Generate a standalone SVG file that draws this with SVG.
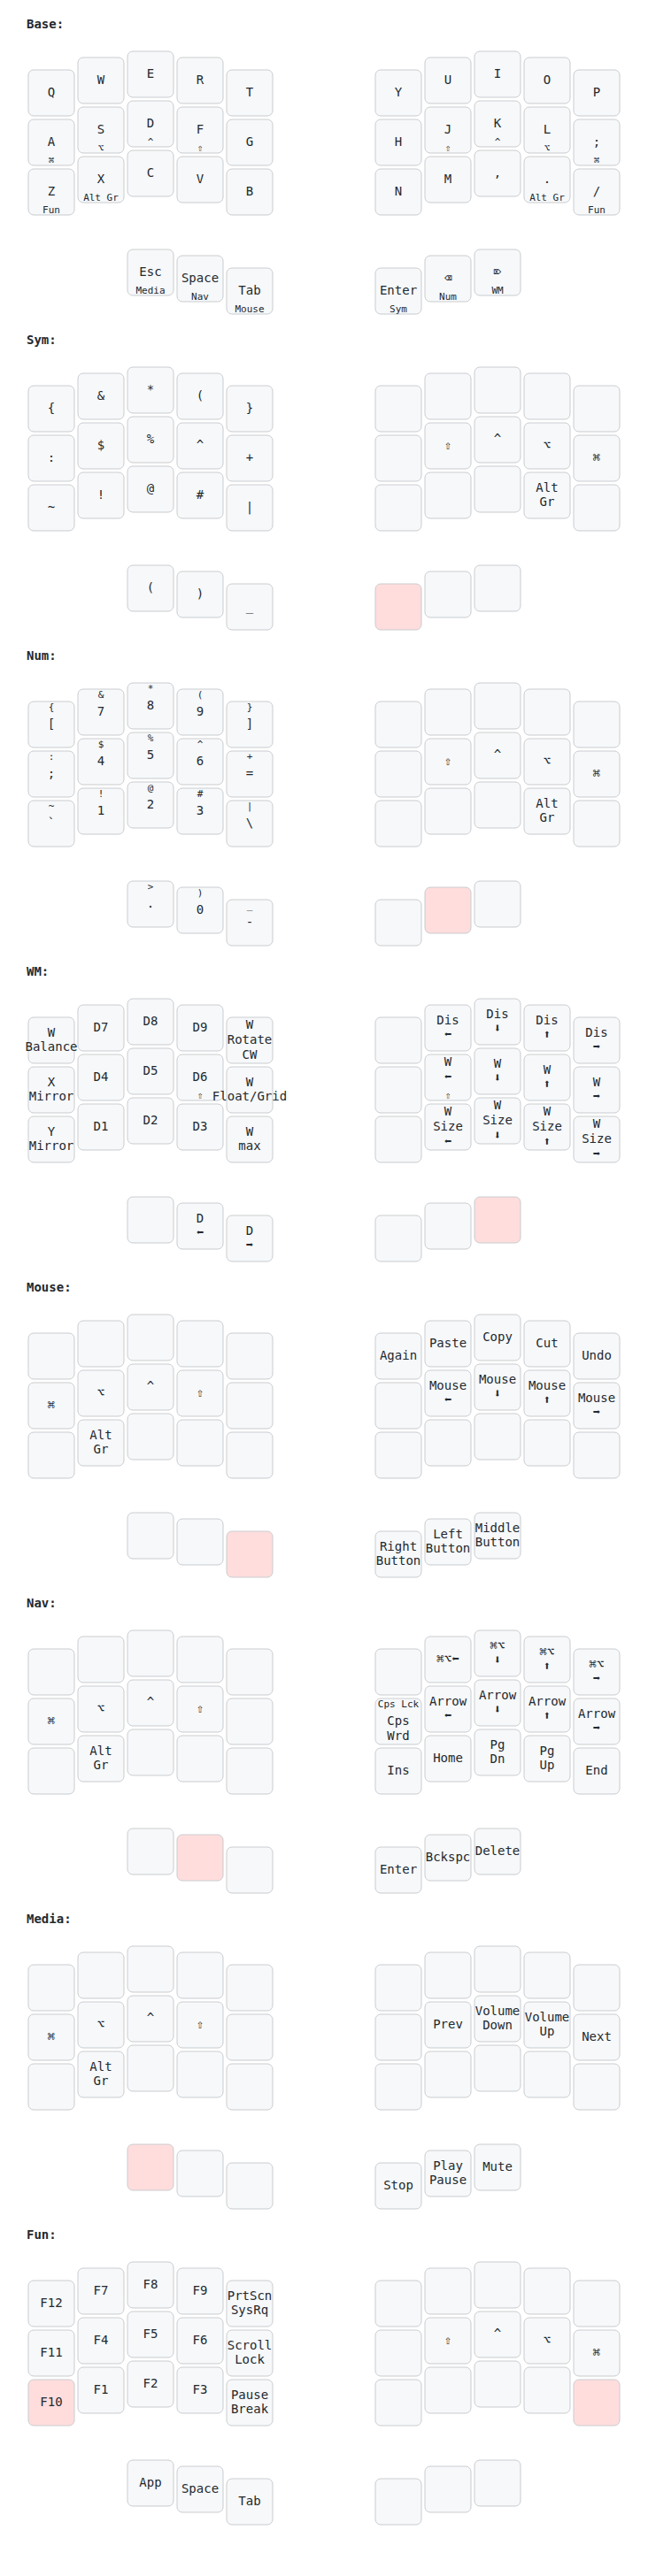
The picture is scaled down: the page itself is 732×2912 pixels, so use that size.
<svg xmlns="http://www.w3.org/2000/svg" xmlns:xlink="http://www.w3.org/1999/xlink" width="732" height="2912" viewBox="0 0 732 2912">
<style>
.key{fill:#f6f8fa;stroke:#c9cccf;stroke-width:1}
.held{fill:#ffdddd}
text{font-family:"DejaVu Sans Mono","Liberation Mono",monospace;font-size:14px;fill:#24292e;text-anchor:middle;dominant-baseline:middle}
text.label{font-weight:bold;text-anchor:start}
text.hold{font-size:11px;dominant-baseline:auto}
text.shifted{font-size:11px;dominant-baseline:hanging}
</style>
<defs>
<rect id="kr" class="key" x="-26" y="-26" width="52" height="52" rx="6"/>
<rect id="kh" class="key held" x="-26" y="-26" width="52" height="52" rx="6"/>
</defs>
<rect x="0" y="0" width="732" height="2912" fill="#ffffff"/>

<!-- Base -->
<g id="layer-base">
<text class="label" x="30" y="28">Base:</text>
<g id="b-L00" transform="translate(58,105)"><use href="#kr"/><text>Q</text></g>
<g id="b-L01" transform="translate(114,91)"><use href="#kr"/><text>W</text></g>
<g id="b-L02" transform="translate(170,84)"><use href="#kr"/><text>E</text></g>
<g id="b-L03" transform="translate(226,91)"><use href="#kr"/><text>R</text></g>
<g id="b-L04" transform="translate(282,105)"><use href="#kr"/><text>T</text></g>
<g id="b-L10" transform="translate(58,161)"><use href="#kr"/><text>A</text><text class="hold" y="24">⌘</text></g>
<g id="b-L11" transform="translate(114,147)"><use href="#kr"/><text>S</text><text class="hold" y="24">⌥</text></g>
<g id="b-L12" transform="translate(170,140)"><use href="#kr"/><text>D</text><text class="hold" y="24">^</text></g>
<g id="b-L13" transform="translate(226,147)"><use href="#kr"/><text>F</text><text class="hold" y="24">⇧</text></g>
<g id="b-L14" transform="translate(282,161)"><use href="#kr"/><text>G</text></g>
<g id="b-L20" transform="translate(58,217)"><use href="#kr"/><text>Z</text><text class="hold" y="24">Fun</text></g>
<g id="b-L21" transform="translate(114,203)"><use href="#kr"/><text>X</text><text class="hold" y="24">Alt Gr</text></g>
<g id="b-L22" transform="translate(170,196)"><use href="#kr"/><text>C</text></g>
<g id="b-L23" transform="translate(226,203)"><use href="#kr"/><text>V</text></g>
<g id="b-L24" transform="translate(282,217)"><use href="#kr"/><text>B</text></g>
<g id="b-LT0" transform="translate(170,308)"><use href="#kr"/><text>Esc</text><text class="hold" y="24">Media</text></g>
<g id="b-LT1" transform="translate(226,315)"><use href="#kr"/><text>Space</text><text class="hold" y="24">Nav</text></g>
<g id="b-LT2" transform="translate(282,329)"><use href="#kr"/><text>Tab</text><text class="hold" y="24">Mouse</text></g>
<g id="b-R00" transform="translate(450,105)"><use href="#kr"/><text>Y</text></g>
<g id="b-R01" transform="translate(506,91)"><use href="#kr"/><text>U</text></g>
<g id="b-R02" transform="translate(562,84)"><use href="#kr"/><text>I</text></g>
<g id="b-R03" transform="translate(618,91)"><use href="#kr"/><text>O</text></g>
<g id="b-R04" transform="translate(674,105)"><use href="#kr"/><text>P</text></g>
<g id="b-R10" transform="translate(450,161)"><use href="#kr"/><text>H</text></g>
<g id="b-R11" transform="translate(506,147)"><use href="#kr"/><text>J</text><text class="hold" y="24">⇧</text></g>
<g id="b-R12" transform="translate(562,140)"><use href="#kr"/><text>K</text><text class="hold" y="24">^</text></g>
<g id="b-R13" transform="translate(618,147)"><use href="#kr"/><text>L</text><text class="hold" y="24">⌥</text></g>
<g id="b-R14" transform="translate(674,161)"><use href="#kr"/><text>;</text><text class="hold" y="24">⌘</text></g>
<g id="b-R20" transform="translate(450,217)"><use href="#kr"/><text>N</text></g>
<g id="b-R21" transform="translate(506,203)"><use href="#kr"/><text>M</text></g>
<g id="b-R22" transform="translate(562,196)"><use href="#kr"/><text>,</text></g>
<g id="b-R23" transform="translate(618,203)"><use href="#kr"/><text>.</text><text class="hold" y="24">Alt Gr</text></g>
<g id="b-R24" transform="translate(674,217)"><use href="#kr"/><text>/</text><text class="hold" y="24">Fun</text></g>
<g id="b-RT0" transform="translate(450,329)"><use href="#kr"/><text>Enter</text><text class="hold" y="24">Sym</text></g>
<g id="b-RT1" transform="translate(506,315)"><use href="#kr"/><text>⌫</text><text class="hold" y="24">Num</text></g>
<g id="b-RT2" transform="translate(562,308)"><use href="#kr"/><text>⌦</text><text class="hold" y="24">WM</text></g>
</g>

<!-- Sym -->
<g id="layer-sym" transform="translate(0,357)">
<text class="label" x="30" y="28">Sym:</text>
<g id="s-L00" transform="translate(58,105)"><use href="#kr"/><text>{</text></g>
<g id="s-L01" transform="translate(114,91)"><use href="#kr"/><text>&amp;</text></g>
<g id="s-L02" transform="translate(170,84)"><use href="#kr"/><text>*</text></g>
<g id="s-L03" transform="translate(226,91)"><use href="#kr"/><text>(</text></g>
<g id="s-L04" transform="translate(282,105)"><use href="#kr"/><text>}</text></g>
<g id="s-L10" transform="translate(58,161)"><use href="#kr"/><text>:</text></g>
<g id="s-L11" transform="translate(114,147)"><use href="#kr"/><text>$</text></g>
<g id="s-L12" transform="translate(170,140)"><use href="#kr"/><text>%</text></g>
<g id="s-L13" transform="translate(226,147)"><use href="#kr"/><text>^</text></g>
<g id="s-L14" transform="translate(282,161)"><use href="#kr"/><text>+</text></g>
<g id="s-L20" transform="translate(58,217)"><use href="#kr"/><text>~</text></g>
<g id="s-L21" transform="translate(114,203)"><use href="#kr"/><text>!</text></g>
<g id="s-L22" transform="translate(170,196)"><use href="#kr"/><text>@</text></g>
<g id="s-L23" transform="translate(226,203)"><use href="#kr"/><text>#</text></g>
<g id="s-L24" transform="translate(282,217)"><use href="#kr"/><text>|</text></g>
<g id="s-LT0" transform="translate(170,308)"><use href="#kr"/><text>(</text></g>
<g id="s-LT1" transform="translate(226,315)"><use href="#kr"/><text>)</text></g>
<g id="s-LT2" transform="translate(282,329)"><use href="#kr"/><text>_</text></g>
<g id="s-R00" transform="translate(450,105)"><use href="#kr"/></g>
<g id="s-R01" transform="translate(506,91)"><use href="#kr"/></g>
<g id="s-R02" transform="translate(562,84)"><use href="#kr"/></g>
<g id="s-R03" transform="translate(618,91)"><use href="#kr"/></g>
<g id="s-R04" transform="translate(674,105)"><use href="#kr"/></g>
<g id="s-R10" transform="translate(450,161)"><use href="#kr"/></g>
<g id="s-R11" transform="translate(506,147)"><use href="#kr"/><text>⇧</text></g>
<g id="s-R12" transform="translate(562,140)"><use href="#kr"/><text>^</text></g>
<g id="s-R13" transform="translate(618,147)"><use href="#kr"/><text>⌥</text></g>
<g id="s-R14" transform="translate(674,161)"><use href="#kr"/><text>⌘</text></g>
<g id="s-R20" transform="translate(450,217)"><use href="#kr"/></g>
<g id="s-R21" transform="translate(506,203)"><use href="#kr"/></g>
<g id="s-R22" transform="translate(562,196)"><use href="#kr"/></g>
<g id="s-R23" transform="translate(618,203)"><use href="#kr"/><text><tspan x="0" dy="-0.6em">Alt</tspan><tspan x="0" dy="1.2em">Gr</tspan></text></g>
<g id="s-R24" transform="translate(674,217)"><use href="#kr"/></g>
<g id="s-RT0" transform="translate(450,329)"><use href="#kh"/></g>
<g id="s-RT1" transform="translate(506,315)"><use href="#kr"/></g>
<g id="s-RT2" transform="translate(562,308)"><use href="#kr"/></g>
</g>

<!-- Num -->
<g id="layer-num" transform="translate(0,714)">
<text class="label" x="30" y="28">Num:</text>
<g id="n-L00" transform="translate(58,105)"><use href="#kr"/><text>[</text><text class="shifted" y="-24">{</text></g>
<g id="n-L01" transform="translate(114,91)"><use href="#kr"/><text>7</text><text class="shifted" y="-24">&amp;</text></g>
<g id="n-L02" transform="translate(170,84)"><use href="#kr"/><text>8</text><text class="shifted" y="-24">*</text></g>
<g id="n-L03" transform="translate(226,91)"><use href="#kr"/><text>9</text><text class="shifted" y="-24">(</text></g>
<g id="n-L04" transform="translate(282,105)"><use href="#kr"/><text>]</text><text class="shifted" y="-24">}</text></g>
<g id="n-L10" transform="translate(58,161)"><use href="#kr"/><text>;</text><text class="shifted" y="-24">:</text></g>
<g id="n-L11" transform="translate(114,147)"><use href="#kr"/><text>4</text><text class="shifted" y="-24">$</text></g>
<g id="n-L12" transform="translate(170,140)"><use href="#kr"/><text>5</text><text class="shifted" y="-24">%</text></g>
<g id="n-L13" transform="translate(226,147)"><use href="#kr"/><text>6</text><text class="shifted" y="-24">^</text></g>
<g id="n-L14" transform="translate(282,161)"><use href="#kr"/><text>=</text><text class="shifted" y="-24">+</text></g>
<g id="n-L20" transform="translate(58,217)"><use href="#kr"/><text>`</text><text class="shifted" y="-24">~</text></g>
<g id="n-L21" transform="translate(114,203)"><use href="#kr"/><text>1</text><text class="shifted" y="-24">!</text></g>
<g id="n-L22" transform="translate(170,196)"><use href="#kr"/><text>2</text><text class="shifted" y="-24">@</text></g>
<g id="n-L23" transform="translate(226,203)"><use href="#kr"/><text>3</text><text class="shifted" y="-24">#</text></g>
<g id="n-L24" transform="translate(282,217)"><use href="#kr"/><text>\</text><text class="shifted" y="-24">|</text></g>
<g id="n-LT0" transform="translate(170,308)"><use href="#kr"/><text>.</text><text class="shifted" y="-24">&gt;</text></g>
<g id="n-LT1" transform="translate(226,315)"><use href="#kr"/><text>0</text><text class="shifted" y="-24">)</text></g>
<g id="n-LT2" transform="translate(282,329)"><use href="#kr"/><text>-</text><text class="shifted" y="-24">_</text></g>
<g id="n-R00" transform="translate(450,105)"><use href="#kr"/></g>
<g id="n-R01" transform="translate(506,91)"><use href="#kr"/></g>
<g id="n-R02" transform="translate(562,84)"><use href="#kr"/></g>
<g id="n-R03" transform="translate(618,91)"><use href="#kr"/></g>
<g id="n-R04" transform="translate(674,105)"><use href="#kr"/></g>
<g id="n-R10" transform="translate(450,161)"><use href="#kr"/></g>
<g id="n-R11" transform="translate(506,147)"><use href="#kr"/><text>⇧</text></g>
<g id="n-R12" transform="translate(562,140)"><use href="#kr"/><text>^</text></g>
<g id="n-R13" transform="translate(618,147)"><use href="#kr"/><text>⌥</text></g>
<g id="n-R14" transform="translate(674,161)"><use href="#kr"/><text>⌘</text></g>
<g id="n-R20" transform="translate(450,217)"><use href="#kr"/></g>
<g id="n-R21" transform="translate(506,203)"><use href="#kr"/></g>
<g id="n-R22" transform="translate(562,196)"><use href="#kr"/></g>
<g id="n-R23" transform="translate(618,203)"><use href="#kr"/><text><tspan x="0" dy="-0.6em">Alt</tspan><tspan x="0" dy="1.2em">Gr</tspan></text></g>
<g id="n-R24" transform="translate(674,217)"><use href="#kr"/></g>
<g id="n-RT0" transform="translate(450,329)"><use href="#kr"/></g>
<g id="n-RT1" transform="translate(506,315)"><use href="#kh"/></g>
<g id="n-RT2" transform="translate(562,308)"><use href="#kr"/></g>
</g>

<!-- WM -->
<g id="layer-wm" transform="translate(0,1071)">
<text class="label" x="30" y="28">WM:</text>
<g id="w-L00" transform="translate(58,105)"><use href="#kr"/><text><tspan x="0" dy="-0.6em">W</tspan><tspan x="0" dy="1.2em">Balance</tspan></text></g>
<g id="w-L01" transform="translate(114,91)"><use href="#kr"/><text>D7</text></g>
<g id="w-L02" transform="translate(170,84)"><use href="#kr"/><text>D8</text></g>
<g id="w-L03" transform="translate(226,91)"><use href="#kr"/><text>D9</text></g>
<g id="w-L04" transform="translate(282,105)"><use href="#kr"/><text><tspan x="0" dy="-1.2em">W</tspan><tspan x="0" dy="1.2em">Rotate</tspan><tspan x="0" dy="1.2em">CW</tspan></text></g>
<g id="w-L10" transform="translate(58,161)"><use href="#kr"/><text><tspan x="0" dy="-0.6em">X</tspan><tspan x="0" dy="1.2em">Mirror</tspan></text></g>
<g id="w-L11" transform="translate(114,147)"><use href="#kr"/><text>D4</text></g>
<g id="w-L12" transform="translate(170,140)"><use href="#kr"/><text>D5</text></g>
<g id="w-L13" transform="translate(226,147)"><use href="#kr"/><text>D6</text><text class="hold" y="24">⇧</text></g>
<g id="w-L14" transform="translate(282,161)"><use href="#kr"/><text><tspan x="0" dy="-0.6em">W</tspan><tspan x="0" dy="1.2em">Float/Grid</tspan></text></g>
<g id="w-L20" transform="translate(58,217)"><use href="#kr"/><text><tspan x="0" dy="-0.6em">Y</tspan><tspan x="0" dy="1.2em">Mirror</tspan></text></g>
<g id="w-L21" transform="translate(114,203)"><use href="#kr"/><text>D1</text></g>
<g id="w-L22" transform="translate(170,196)"><use href="#kr"/><text>D2</text></g>
<g id="w-L23" transform="translate(226,203)"><use href="#kr"/><text>D3</text></g>
<g id="w-L24" transform="translate(282,217)"><use href="#kr"/><text><tspan x="0" dy="-0.6em">W</tspan><tspan x="0" dy="1.2em">max</tspan></text></g>
<g id="w-LT0" transform="translate(170,308)"><use href="#kr"/></g>
<g id="w-LT1" transform="translate(226,315)"><use href="#kr"/><text><tspan x="0" dy="-0.6em">D</tspan><tspan x="0" dy="1.2em">⬅</tspan></text></g>
<g id="w-LT2" transform="translate(282,329)"><use href="#kr"/><text><tspan x="0" dy="-0.6em">D</tspan><tspan x="0" dy="1.2em">➡</tspan></text></g>
<g id="w-R00" transform="translate(450,105)"><use href="#kr"/></g>
<g id="w-R01" transform="translate(506,91)"><use href="#kr"/><text><tspan x="0" dy="-0.6em">Dis</tspan><tspan x="0" dy="1.2em">⬅</tspan></text></g>
<g id="w-R02" transform="translate(562,84)"><use href="#kr"/><text><tspan x="0" dy="-0.6em">Dis</tspan><tspan x="0" dy="1.2em">⬇</tspan></text></g>
<g id="w-R03" transform="translate(618,91)"><use href="#kr"/><text><tspan x="0" dy="-0.6em">Dis</tspan><tspan x="0" dy="1.2em">⬆</tspan></text></g>
<g id="w-R04" transform="translate(674,105)"><use href="#kr"/><text><tspan x="0" dy="-0.6em">Dis</tspan><tspan x="0" dy="1.2em">➡</tspan></text></g>
<g id="w-R10" transform="translate(450,161)"><use href="#kr"/></g>
<g id="w-R11" transform="translate(506,147)"><use href="#kr"/><text><tspan x="0" dy="-1.2em">W</tspan><tspan x="0" dy="1.2em">⬅</tspan></text><text class="hold" y="24">⇧</text></g>
<g id="w-R12" transform="translate(562,140)"><use href="#kr"/><text><tspan x="0" dy="-0.6em">W</tspan><tspan x="0" dy="1.2em">⬇</tspan></text></g>
<g id="w-R13" transform="translate(618,147)"><use href="#kr"/><text><tspan x="0" dy="-0.6em">W</tspan><tspan x="0" dy="1.2em">⬆</tspan></text></g>
<g id="w-R14" transform="translate(674,161)"><use href="#kr"/><text><tspan x="0" dy="-0.6em">W</tspan><tspan x="0" dy="1.2em">➡</tspan></text></g>
<g id="w-R20" transform="translate(450,217)"><use href="#kr"/></g>
<g id="w-R21" transform="translate(506,203)"><use href="#kr"/><text><tspan x="0" dy="-1.2em">W</tspan><tspan x="0" dy="1.2em">Size</tspan><tspan x="0" dy="1.2em">⬅</tspan></text></g>
<g id="w-R22" transform="translate(562,196)"><use href="#kr"/><text><tspan x="0" dy="-1.2em">W</tspan><tspan x="0" dy="1.2em">Size</tspan><tspan x="0" dy="1.2em">⬇</tspan></text></g>
<g id="w-R23" transform="translate(618,203)"><use href="#kr"/><text><tspan x="0" dy="-1.2em">W</tspan><tspan x="0" dy="1.2em">Size</tspan><tspan x="0" dy="1.2em">⬆</tspan></text></g>
<g id="w-R24" transform="translate(674,217)"><use href="#kr"/><text><tspan x="0" dy="-1.2em">W</tspan><tspan x="0" dy="1.2em">Size</tspan><tspan x="0" dy="1.2em">➡</tspan></text></g>
<g id="w-RT0" transform="translate(450,329)"><use href="#kr"/></g>
<g id="w-RT1" transform="translate(506,315)"><use href="#kr"/></g>
<g id="w-RT2" transform="translate(562,308)"><use href="#kh"/></g>
</g>

<!-- Mouse -->
<g id="layer-mouse" transform="translate(0,1428)">
<text class="label" x="30" y="28">Mouse:</text>
<g id="m-L00" transform="translate(58,105)"><use href="#kr"/></g>
<g id="m-L01" transform="translate(114,91)"><use href="#kr"/></g>
<g id="m-L02" transform="translate(170,84)"><use href="#kr"/></g>
<g id="m-L03" transform="translate(226,91)"><use href="#kr"/></g>
<g id="m-L04" transform="translate(282,105)"><use href="#kr"/></g>
<g id="m-L10" transform="translate(58,161)"><use href="#kr"/><text>⌘</text></g>
<g id="m-L11" transform="translate(114,147)"><use href="#kr"/><text>⌥</text></g>
<g id="m-L12" transform="translate(170,140)"><use href="#kr"/><text>^</text></g>
<g id="m-L13" transform="translate(226,147)"><use href="#kr"/><text>⇧</text></g>
<g id="m-L14" transform="translate(282,161)"><use href="#kr"/></g>
<g id="m-L20" transform="translate(58,217)"><use href="#kr"/></g>
<g id="m-L21" transform="translate(114,203)"><use href="#kr"/><text><tspan x="0" dy="-0.6em">Alt</tspan><tspan x="0" dy="1.2em">Gr</tspan></text></g>
<g id="m-L22" transform="translate(170,196)"><use href="#kr"/></g>
<g id="m-L23" transform="translate(226,203)"><use href="#kr"/></g>
<g id="m-L24" transform="translate(282,217)"><use href="#kr"/></g>
<g id="m-LT0" transform="translate(170,308)"><use href="#kr"/></g>
<g id="m-LT1" transform="translate(226,315)"><use href="#kr"/></g>
<g id="m-LT2" transform="translate(282,329)"><use href="#kh"/></g>
<g id="m-R00" transform="translate(450,105)"><use href="#kr"/><text>Again</text></g>
<g id="m-R01" transform="translate(506,91)"><use href="#kr"/><text>Paste</text></g>
<g id="m-R02" transform="translate(562,84)"><use href="#kr"/><text>Copy</text></g>
<g id="m-R03" transform="translate(618,91)"><use href="#kr"/><text>Cut</text></g>
<g id="m-R04" transform="translate(674,105)"><use href="#kr"/><text>Undo</text></g>
<g id="m-R10" transform="translate(450,161)"><use href="#kr"/></g>
<g id="m-R11" transform="translate(506,147)"><use href="#kr"/><text><tspan x="0" dy="-0.6em">Mouse</tspan><tspan x="0" dy="1.2em">⬅</tspan></text></g>
<g id="m-R12" transform="translate(562,140)"><use href="#kr"/><text><tspan x="0" dy="-0.6em">Mouse</tspan><tspan x="0" dy="1.2em">⬇</tspan></text></g>
<g id="m-R13" transform="translate(618,147)"><use href="#kr"/><text><tspan x="0" dy="-0.6em">Mouse</tspan><tspan x="0" dy="1.2em">⬆</tspan></text></g>
<g id="m-R14" transform="translate(674,161)"><use href="#kr"/><text><tspan x="0" dy="-0.6em">Mouse</tspan><tspan x="0" dy="1.2em">➡</tspan></text></g>
<g id="m-R20" transform="translate(450,217)"><use href="#kr"/></g>
<g id="m-R21" transform="translate(506,203)"><use href="#kr"/></g>
<g id="m-R22" transform="translate(562,196)"><use href="#kr"/></g>
<g id="m-R23" transform="translate(618,203)"><use href="#kr"/></g>
<g id="m-R24" transform="translate(674,217)"><use href="#kr"/></g>
<g id="m-RT0" transform="translate(450,329)"><use href="#kr"/><text><tspan x="0" dy="-0.6em">Right</tspan><tspan x="0" dy="1.2em">Button</tspan></text></g>
<g id="m-RT1" transform="translate(506,315)"><use href="#kr"/><text><tspan x="0" dy="-0.6em">Left</tspan><tspan x="0" dy="1.2em">Button</tspan></text></g>
<g id="m-RT2" transform="translate(562,308)"><use href="#kr"/><text><tspan x="0" dy="-0.6em">Middle</tspan><tspan x="0" dy="1.2em">Button</tspan></text></g>
</g>

<!-- Nav -->
<g id="layer-nav" transform="translate(0,1785)">
<text class="label" x="30" y="28">Nav:</text>
<g id="v-L00" transform="translate(58,105)"><use href="#kr"/></g>
<g id="v-L01" transform="translate(114,91)"><use href="#kr"/></g>
<g id="v-L02" transform="translate(170,84)"><use href="#kr"/></g>
<g id="v-L03" transform="translate(226,91)"><use href="#kr"/></g>
<g id="v-L04" transform="translate(282,105)"><use href="#kr"/></g>
<g id="v-L10" transform="translate(58,161)"><use href="#kr"/><text>⌘</text></g>
<g id="v-L11" transform="translate(114,147)"><use href="#kr"/><text>⌥</text></g>
<g id="v-L12" transform="translate(170,140)"><use href="#kr"/><text>^</text></g>
<g id="v-L13" transform="translate(226,147)"><use href="#kr"/><text>⇧</text></g>
<g id="v-L14" transform="translate(282,161)"><use href="#kr"/></g>
<g id="v-L20" transform="translate(58,217)"><use href="#kr"/></g>
<g id="v-L21" transform="translate(114,203)"><use href="#kr"/><text><tspan x="0" dy="-0.6em">Alt</tspan><tspan x="0" dy="1.2em">Gr</tspan></text></g>
<g id="v-L22" transform="translate(170,196)"><use href="#kr"/></g>
<g id="v-L23" transform="translate(226,203)"><use href="#kr"/></g>
<g id="v-L24" transform="translate(282,217)"><use href="#kr"/></g>
<g id="v-LT0" transform="translate(170,308)"><use href="#kr"/></g>
<g id="v-LT1" transform="translate(226,315)"><use href="#kh"/></g>
<g id="v-LT2" transform="translate(282,329)"><use href="#kr"/></g>
<g id="v-R00" transform="translate(450,105)"><use href="#kr"/></g>
<g id="v-R01" transform="translate(506,91)"><use href="#kr"/><text>⌘⌥⬅</text></g>
<g id="v-R02" transform="translate(562,84)"><use href="#kr"/><text><tspan x="0" dy="-0.6em">⌘⌥</tspan><tspan x="0" dy="1.2em">⬇</tspan></text></g>
<g id="v-R03" transform="translate(618,91)"><use href="#kr"/><text><tspan x="0" dy="-0.6em">⌘⌥</tspan><tspan x="0" dy="1.2em">⬆</tspan></text></g>
<g id="v-R04" transform="translate(674,105)"><use href="#kr"/><text><tspan x="0" dy="-0.6em">⌘⌥</tspan><tspan x="0" dy="1.2em">➡</tspan></text></g>
<g id="v-R10" transform="translate(450,161)"><use href="#kr"/><text><tspan x="0" dy="0">Cps</tspan><tspan x="0" dy="1.2em">Wrd</tspan></text><text class="shifted" y="-24">Cps Lck</text></g>
<g id="v-R11" transform="translate(506,147)"><use href="#kr"/><text><tspan x="0" dy="-0.6em">Arrow</tspan><tspan x="0" dy="1.2em">⬅</tspan></text></g>
<g id="v-R12" transform="translate(562,140)"><use href="#kr"/><text><tspan x="0" dy="-0.6em">Arrow</tspan><tspan x="0" dy="1.2em">⬇</tspan></text></g>
<g id="v-R13" transform="translate(618,147)"><use href="#kr"/><text><tspan x="0" dy="-0.6em">Arrow</tspan><tspan x="0" dy="1.2em">⬆</tspan></text></g>
<g id="v-R14" transform="translate(674,161)"><use href="#kr"/><text><tspan x="0" dy="-0.6em">Arrow</tspan><tspan x="0" dy="1.2em">➡</tspan></text></g>
<g id="v-R20" transform="translate(450,217)"><use href="#kr"/><text>Ins</text></g>
<g id="v-R21" transform="translate(506,203)"><use href="#kr"/><text>Home</text></g>
<g id="v-R22" transform="translate(562,196)"><use href="#kr"/><text><tspan x="0" dy="-0.6em">Pg</tspan><tspan x="0" dy="1.2em">Dn</tspan></text></g>
<g id="v-R23" transform="translate(618,203)"><use href="#kr"/><text><tspan x="0" dy="-0.6em">Pg</tspan><tspan x="0" dy="1.2em">Up</tspan></text></g>
<g id="v-R24" transform="translate(674,217)"><use href="#kr"/><text>End</text></g>
<g id="v-RT0" transform="translate(450,329)"><use href="#kr"/><text>Enter</text></g>
<g id="v-RT1" transform="translate(506,315)"><use href="#kr"/><text>Bckspc</text></g>
<g id="v-RT2" transform="translate(562,308)"><use href="#kr"/><text>Delete</text></g>
</g>

<!-- Media -->
<g id="layer-media" transform="translate(0,2142)">
<text class="label" x="30" y="28">Media:</text>
<g id="d-L00" transform="translate(58,105)"><use href="#kr"/></g>
<g id="d-L01" transform="translate(114,91)"><use href="#kr"/></g>
<g id="d-L02" transform="translate(170,84)"><use href="#kr"/></g>
<g id="d-L03" transform="translate(226,91)"><use href="#kr"/></g>
<g id="d-L04" transform="translate(282,105)"><use href="#kr"/></g>
<g id="d-L10" transform="translate(58,161)"><use href="#kr"/><text>⌘</text></g>
<g id="d-L11" transform="translate(114,147)"><use href="#kr"/><text>⌥</text></g>
<g id="d-L12" transform="translate(170,140)"><use href="#kr"/><text>^</text></g>
<g id="d-L13" transform="translate(226,147)"><use href="#kr"/><text>⇧</text></g>
<g id="d-L14" transform="translate(282,161)"><use href="#kr"/></g>
<g id="d-L20" transform="translate(58,217)"><use href="#kr"/></g>
<g id="d-L21" transform="translate(114,203)"><use href="#kr"/><text><tspan x="0" dy="-0.6em">Alt</tspan><tspan x="0" dy="1.2em">Gr</tspan></text></g>
<g id="d-L22" transform="translate(170,196)"><use href="#kr"/></g>
<g id="d-L23" transform="translate(226,203)"><use href="#kr"/></g>
<g id="d-L24" transform="translate(282,217)"><use href="#kr"/></g>
<g id="d-LT0" transform="translate(170,308)"><use href="#kh"/></g>
<g id="d-LT1" transform="translate(226,315)"><use href="#kr"/></g>
<g id="d-LT2" transform="translate(282,329)"><use href="#kr"/></g>
<g id="d-R00" transform="translate(450,105)"><use href="#kr"/></g>
<g id="d-R01" transform="translate(506,91)"><use href="#kr"/></g>
<g id="d-R02" transform="translate(562,84)"><use href="#kr"/></g>
<g id="d-R03" transform="translate(618,91)"><use href="#kr"/></g>
<g id="d-R04" transform="translate(674,105)"><use href="#kr"/></g>
<g id="d-R10" transform="translate(450,161)"><use href="#kr"/></g>
<g id="d-R11" transform="translate(506,147)"><use href="#kr"/><text>Prev</text></g>
<g id="d-R12" transform="translate(562,140)"><use href="#kr"/><text><tspan x="0" dy="-0.6em">Volume</tspan><tspan x="0" dy="1.2em">Down</tspan></text></g>
<g id="d-R13" transform="translate(618,147)"><use href="#kr"/><text><tspan x="0" dy="-0.6em">Volume</tspan><tspan x="0" dy="1.2em">Up</tspan></text></g>
<g id="d-R14" transform="translate(674,161)"><use href="#kr"/><text>Next</text></g>
<g id="d-R20" transform="translate(450,217)"><use href="#kr"/></g>
<g id="d-R21" transform="translate(506,203)"><use href="#kr"/></g>
<g id="d-R22" transform="translate(562,196)"><use href="#kr"/></g>
<g id="d-R23" transform="translate(618,203)"><use href="#kr"/></g>
<g id="d-R24" transform="translate(674,217)"><use href="#kr"/></g>
<g id="d-RT0" transform="translate(450,329)"><use href="#kr"/><text>Stop</text></g>
<g id="d-RT1" transform="translate(506,315)"><use href="#kr"/><text><tspan x="0" dy="-0.6em">Play</tspan><tspan x="0" dy="1.2em">Pause</tspan></text></g>
<g id="d-RT2" transform="translate(562,308)"><use href="#kr"/><text>Mute</text></g>
</g>

<!-- Fun -->
<g id="layer-fun" transform="translate(0,2499)">
<text class="label" x="30" y="28">Fun:</text>
<g id="f-L00" transform="translate(58,105)"><use href="#kr"/><text>F12</text></g>
<g id="f-L01" transform="translate(114,91)"><use href="#kr"/><text>F7</text></g>
<g id="f-L02" transform="translate(170,84)"><use href="#kr"/><text>F8</text></g>
<g id="f-L03" transform="translate(226,91)"><use href="#kr"/><text>F9</text></g>
<g id="f-L04" transform="translate(282,105)"><use href="#kr"/><text><tspan x="0" dy="-0.6em">PrtScn</tspan><tspan x="0" dy="1.2em">SysRq</tspan></text></g>
<g id="f-L10" transform="translate(58,161)"><use href="#kr"/><text>F11</text></g>
<g id="f-L11" transform="translate(114,147)"><use href="#kr"/><text>F4</text></g>
<g id="f-L12" transform="translate(170,140)"><use href="#kr"/><text>F5</text></g>
<g id="f-L13" transform="translate(226,147)"><use href="#kr"/><text>F6</text></g>
<g id="f-L14" transform="translate(282,161)"><use href="#kr"/><text><tspan x="0" dy="-0.6em">Scroll</tspan><tspan x="0" dy="1.2em">Lock</tspan></text></g>
<g id="f-L20" transform="translate(58,217)"><use href="#kh"/><text>F10</text></g>
<g id="f-L21" transform="translate(114,203)"><use href="#kr"/><text>F1</text></g>
<g id="f-L22" transform="translate(170,196)"><use href="#kr"/><text>F2</text></g>
<g id="f-L23" transform="translate(226,203)"><use href="#kr"/><text>F3</text></g>
<g id="f-L24" transform="translate(282,217)"><use href="#kr"/><text><tspan x="0" dy="-0.6em">Pause</tspan><tspan x="0" dy="1.2em">Break</tspan></text></g>
<g id="f-LT0" transform="translate(170,308)"><use href="#kr"/><text>App</text></g>
<g id="f-LT1" transform="translate(226,315)"><use href="#kr"/><text>Space</text></g>
<g id="f-LT2" transform="translate(282,329)"><use href="#kr"/><text>Tab</text></g>
<g id="f-R00" transform="translate(450,105)"><use href="#kr"/></g>
<g id="f-R01" transform="translate(506,91)"><use href="#kr"/></g>
<g id="f-R02" transform="translate(562,84)"><use href="#kr"/></g>
<g id="f-R03" transform="translate(618,91)"><use href="#kr"/></g>
<g id="f-R04" transform="translate(674,105)"><use href="#kr"/></g>
<g id="f-R10" transform="translate(450,161)"><use href="#kr"/></g>
<g id="f-R11" transform="translate(506,147)"><use href="#kr"/><text>⇧</text></g>
<g id="f-R12" transform="translate(562,140)"><use href="#kr"/><text>^</text></g>
<g id="f-R13" transform="translate(618,147)"><use href="#kr"/><text>⌥</text></g>
<g id="f-R14" transform="translate(674,161)"><use href="#kr"/><text>⌘</text></g>
<g id="f-R20" transform="translate(450,217)"><use href="#kr"/></g>
<g id="f-R21" transform="translate(506,203)"><use href="#kr"/></g>
<g id="f-R22" transform="translate(562,196)"><use href="#kr"/></g>
<g id="f-R23" transform="translate(618,203)"><use href="#kr"/></g>
<g id="f-R24" transform="translate(674,217)"><use href="#kh"/></g>
<g id="f-RT0" transform="translate(450,329)"><use href="#kr"/></g>
<g id="f-RT1" transform="translate(506,315)"><use href="#kr"/></g>
<g id="f-RT2" transform="translate(562,308)"><use href="#kr"/></g>
</g>
</svg>
